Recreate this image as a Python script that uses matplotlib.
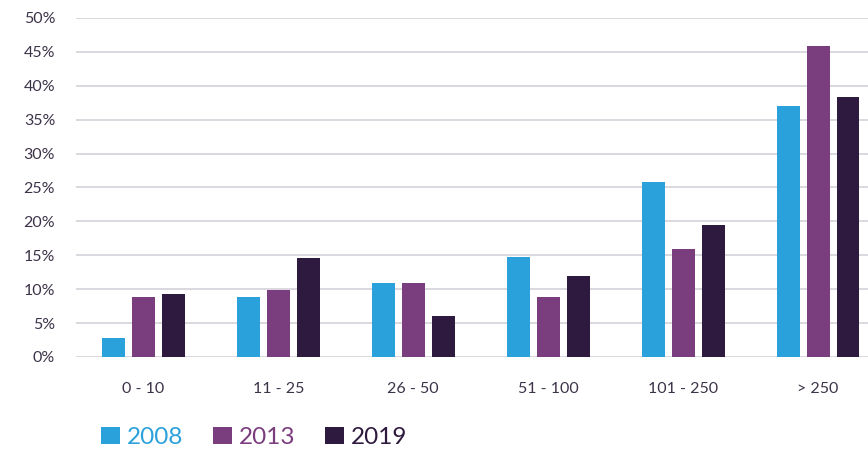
import matplotlib.pyplot as plt
import numpy as np

categories = ['0 - 10', '11 - 25', '26 - 50', '51 - 100', '101 - 250', '> 250']
years = ['2008', '2013', '2019']
share_2008 = [2.8, 8.8, 10.9, 14.8, 25.8, 37.0]
share_2013 = [8.8, 9.9, 10.9, 8.8, 15.9, 45.9]
share_2019 = [9.3, 14.6, 6.0, 11.9, 19.5, 38.3]
colors = ['#2ba1dc', '#7a3d7e', '#2f1a3f']

plt.rcParams['font.family'] = ['Lato', 'DejaVu Sans']

fig = plt.figure(figsize=(8.68, 4.51), dpi=100)
ax = fig.add_axes([76 / 868, 94 / 451, 1 - 76 / 868, 339 / 451])

x = np.arange(len(categories))
width = 0.17
step = 0.222
bars = []
for i, (vals, c) in enumerate(zip([share_2008, share_2013, share_2019], colors)):
    b = ax.bar(x + (i - 1) * step, vals, width, color=c, zorder=3)
    bars.append(b)

ax.set_xlim(-0.5, 5.37)
ax.set_ylim(0, 50)
ax.set_yticks(np.arange(0, 51, 5))
ax.set_yticklabels([f'{v}%' for v in range(0, 51, 5)])
ax.set_xticks(x)
ax.set_xticklabels(categories)
ax.grid(axis='y', color='#d8d6dc', linewidth=1.3, zorder=0)
ax.set_axisbelow(True)
for s in ax.spines.values():
    s.set_visible(False)
ax.tick_params(axis='y', length=0, pad=15, labelsize=11.5, labelcolor='#3d3349')
ax.tick_params(axis='x', length=0, pad=18, labelsize=11.5, labelcolor='#3d3349')

# legend: coloured squares + coloured labels below the plot
leg = fig.legend(bars, years, loc='lower left', bbox_to_anchor=(101 / 868, 3 / 451),
                 ncol=3, frameon=False, fontsize=17.5, handlelength=0.78,
                 handleheight=0.7, handletextpad=0.3, columnspacing=1.2,
                 borderpad=0, borderaxespad=0, labelcolor=colors)

fig.savefig('out.png', dpi=100)
